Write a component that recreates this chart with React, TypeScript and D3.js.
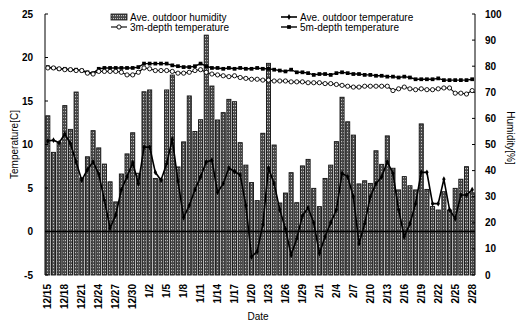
import React from "react";
import * as d3 from "d3";

const W = 521, H = 321;
const startDate = new Date(2000, 11, 15);
const categories: string[] = d3.timeDay.range(startDate, new Date(2001, 1, 29)).map((d) => `${d.getMonth() + 1}/${d.getDate()}`);
const tickLabels = ["12/15","12/18","12/21","12/24","12/27","12/30","1/2","1/5","1/8","1/11","1/14","1/17","1/20","1/23","1/26","1/29","2/1","2/4","2/7","2/10","2/13","2/16","2/19","2/22","2/25","2/28"];

const humidity = [61, 47, 50.7, 64.9, 55.8, 70.1, 37.2, 45.3, 55.3, 48.7,
  42.5, 35.7, 28, 38.7, 46.4, 54.5, 39, 70.2, 70.9, 37,
  36.8, 70.9, 76.6, 41.4, 51, 68.6, 55, 59.5, 91.9, 72.4,
  59.4, 62.2, 67.3, 66.4, 50.7, 42.1, 35.4, 28.5, 54.3, 81.1,
  49.8, 27.6, 31.4, 39.2, 27.7, 41.8, 44.3, 33.2, 26.2, 37,
  42.1, 51.1, 68.1, 58.7, 53.6, 34.9, 36.1, 35.1, 47.6, 42.4,
  53.3, 40.9, 32.6, 37.7, 34.2, 32.6, 57.9, 32.8, 26.2, 24.9,
  31.9, 24.9, 33.2, 36.7, 41.5, 31.5];

const outdoorTemp = [10.4, 10.5, 10.2, 11.2, 10.1, 8.0, 5.9, 7.1, 8.0, 6.6,
  3.6, 0.4, 1.9, 4.8, 6.3, 7.9, 5.5, 9.7, 9.7, 6.8,
  5.9, 7.8, 10.6, 5.8, 1.6, 3.0, 4.8, 6.3, 8.0, 8.2,
  4.5, 5.5, 7.3, 6.9, 6.5, 3.0, -2.9, -2.3, 0.8, 7.3,
  5.5, 2.5, 0.3, -2.7, -0.8, 1.8, 2.7, 1.0, -2.5, -0.6,
  1.0, 2.5, 6.7, 6.3, 4.0, -1.4, 0.9, 4.0, 5.5, 6.3,
  8.0, 6.7, 2.5, -0.6, 0.9, 3.2, 6.8, 6.8, 3.2, 3.2,
  6.0, 2.5, 1.5, 4.2, 4.2, 4.8];

const temp3m = [18.8, 18.8, 18.7, 18.6, 18.6, 18.5, 18.5, 18.2, 18.1, 18.4,
  18.4, 18.4, 18.4, 18.3, 18.0, 18.0, 18.3, 18.8, 18.7, 18.5,
  18.5, 18.5, 18.4, 18.2, 18.2, 18.3, 18.5, 18.6, 18.3, 18.1,
  18.0, 17.9, 17.8, 17.9, 17.7, 17.6, 17.5, 17.5, 17.4, 17.4,
  17.3, 17.3, 17.3, 17.2, 17.2, 17.2, 17.1, 17.1, 17.1, 17.0,
  17.0, 16.9, 16.8, 16.7, 16.6, 16.6, 16.7, 16.7, 16.7, 16.7,
  16.7, 16.2, 16.4, 16.6, 16.4, 16.3, 16.4, 16.3, 16.3, 16.4,
  16.5, 16.5, 15.9, 15.9, 15.8, 16.2];

const temp5m = [18.9, 18.8, 18.7, 18.7, 18.6, 18.6, 18.5, 18.3, 18.2, 18.7,
  18.8, 18.8, 18.8, 18.8, 18.8, 18.8, 18.9, 19.3, 19.3, 19.3,
  19.3, 19.3, 19.1, 19.0, 18.9, 18.9, 19.0, 19.3, 19.0, 18.8,
  18.8, 18.7, 18.8, 18.7, 18.8, 18.7, 18.7, 18.8, 18.7, 18.7,
  18.6, 18.5, 18.4, 18.6, 18.3, 18.3, 18.2, 18.0, 18.1, 18.1,
  18.0, 18.2, 18.3, 18.2, 18.1, 18.1, 18.0, 18.0, 17.9, 17.9,
  17.8, 17.8, 17.7, 17.8, 17.7, 17.5, 17.5, 17.5, 17.5, 17.6,
  17.4, 17.4, 17.4, 17.4, 17.4, 17.5];

const tempTicks = [-5, 0, 5, 10, 15, 20, 25];
const humTicks = [0, 10, 20, 30, 40, 50, 60, 70, 80, 90, 100];

const L = 45, R = 475, T = 14, B = 275;
const font = "Arial, 'Liberation Sans', sans-serif";

export default function App() {
  const x = d3.scaleBand<string>().domain(categories).range([L, R]).paddingInner(0.28).paddingOuter(0.14);
  const yT = d3.scaleLinear().domain([-5, 25]).range([B, T]);
  const yH = d3.scaleLinear().domain([0, 100]).range([B, T]);
  const cx = (i: number) => (x(categories[i]) as number) + x.bandwidth() / 2;
  const line = d3.line<number>().x((_, i) => cx(i)).y((d) => yT(d));
  const diamond = d3.symbol().type(d3.symbolDiamond).size(10)();
  const square = d3.symbol().type(d3.symbolSquare).size(14)();

  return (
    <svg width={W} height={H} style={{ position: "absolute", left: 0, top: 0, background: "#fff" }} fontFamily={font}>
      <defs>
        <pattern id="hatch" width="2" height="3" patternUnits="userSpaceOnUse">
          <rect width="2" height="3" fill="#4a4a4a" />
          <rect x="1" y="0" width="1" height="1.2" fill="#c4c4c4" />
        </pattern>
      </defs>
      {/* bars */}
      {humidity.map((h, i) => (
        <rect key={i} x={x(categories[i])} y={yH(h)} width={x.bandwidth()} height={B - yH(h)}
          fill="url(#hatch)" stroke="#111" strokeWidth={0.9} />
      ))}
      {/* zero line */}
      <line x1={L} x2={R} y1={yT(0)} y2={yT(0)} stroke="#000" strokeWidth={1.3} />
      {/* left axis */}
      <line x1={L} x2={L} y1={T} y2={B} stroke="#000" strokeWidth={1} />
      {tempTicks.map((t) => (
        <g key={t}>
          <line x1={L} x2={L + 3} y1={yT(t)} y2={yT(t)} stroke="#000" />
          <text x={L - 12} y={yT(t) + 3.5} fontSize={10} textAnchor="end" fontWeight="bold">{t}</text>
        </g>
      ))}
      {/* right axis */}
      <line x1={R} x2={R} y1={T} y2={B} stroke="#000" strokeWidth={1} />
      {humTicks.map((t) => (
        <g key={t}>
          <line x1={R - 3} x2={R} y1={yH(t)} y2={yH(t)} stroke="#000" />
          <text x={R + 10} y={yH(t) + 3.5} fontSize={10} textAnchor="start" fontWeight="bold">{t}</text>
        </g>
      ))}
      {/* lines */}
      <path d={line(outdoorTemp) || ""} fill="none" stroke="#000" strokeWidth={1.6} />
      {outdoorTemp.map((v, i) => (
        <path key={i} d={diamond || ""} transform={`translate(${cx(i)},${yT(v)})`} fill="#000" />
      ))}
      <path d={line(temp5m) || ""} fill="none" stroke="#000" strokeWidth={1.4} />
      {temp5m.map((v, i) => (
        <path key={i} d={square || ""} transform={`translate(${cx(i)},${yT(v)})`} fill="#000" />
      ))}
      <path d={line(temp3m) || ""} fill="none" stroke="#000" strokeWidth={1.1} />
      {temp3m.map((v, i) => (
        <circle key={i} cx={cx(i)} cy={yT(v)} r={2.1} fill="#fff" stroke="#000" strokeWidth={0.9} />
      ))}
      {/* x tick labels */}
      {tickLabels.map((lab) => {
        const i = categories.indexOf(lab);
        const px = cx(i) + 3.5;
        return (
          <text key={lab} transform={`translate(${px},${284}) rotate(-90)`} fontSize={10} textAnchor="end" fontWeight="bold">{lab}</text>
        );
      })}
      {/* axis titles */}
      <text transform={`translate(18,${(T + B) / 2}) rotate(-90)`} fontSize={10} textAnchor="middle">Temperature[C]</text>
      <text transform={`translate(507,138) rotate(90)`} fontSize={10} textAnchor="middle">Humidity[%]</text>
      <text x={258} y={320} fontSize={10} textAnchor="middle">Date</text>
      {/* legend */}
      <g fontSize={10}>
        <rect x={111} y={14} width={16} height={6} fill="url(#hatch)" stroke="#111" strokeWidth={0.8} />
        <text x={130} y={20.5}>Ave. outdoor humidity</text>
        <line x1={111} x2={127} y1={27} y2={27} stroke="#000" strokeWidth={1.1} />
        <circle cx={119} cy={27} r={2.1} fill="#fff" stroke="#000" strokeWidth={0.9} />
        <text x={130} y={30.5}>3m-depth temperature</text>
        <line x1={281} x2={297} y1={17} y2={17} stroke="#000" strokeWidth={1.6} />
        <path d={diamond || ""} transform="translate(289,17)" fill="#000" />
        <text x={300} y={20.5}>Ave. outdoor temperature</text>
        <line x1={281} x2={297} y1={27} y2={27} stroke="#000" strokeWidth={1.4} />
        <path d={square || ""} transform="translate(289,27)" fill="#000" />
        <text x={300} y={30.5}>5m-depth temperature</text>
      </g>
    </svg>
  );
}
